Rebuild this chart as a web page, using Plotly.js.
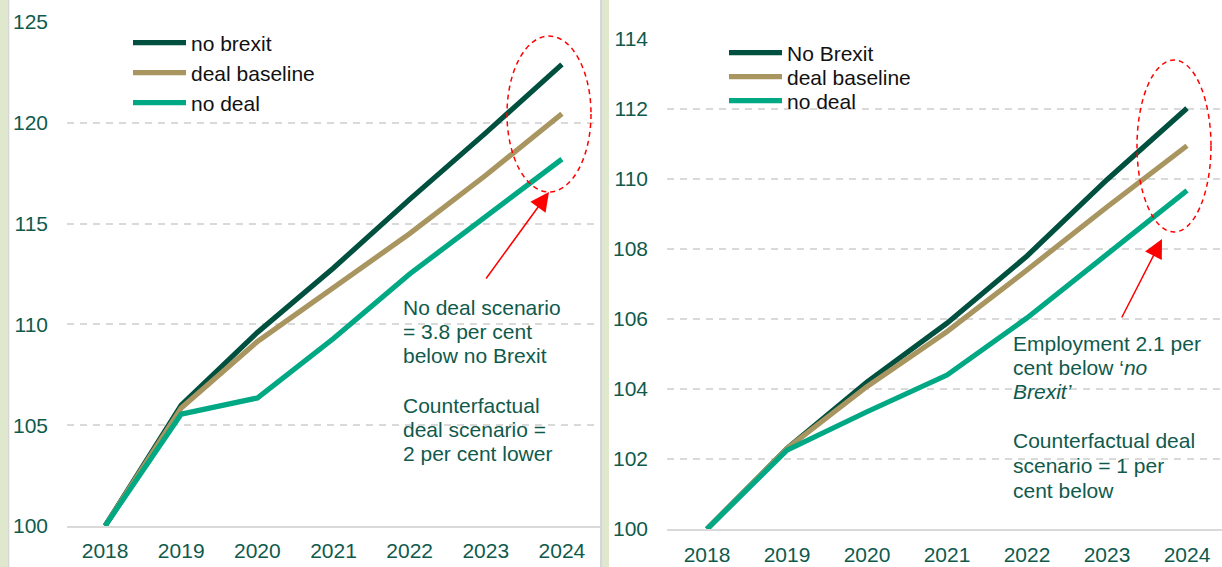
<!DOCTYPE html>
<html>
<head>
<meta charset="utf-8">
<script src="https://cdn.plot.ly/plotly-3.0.1.min.js"></script>
<style>html,body{margin:0;padding:0;background:#fff;}#chart{width:1222px;height:567px;}</style>
</head>
<body>
<div id="chart"></div>
<script>
// ---- data ----
const years = ['2018', '2019', '2020', '2021', '2022', '2023', '2024'];

const gdpNoBrexit = [100, 106.0, 109.6, 112.8, 116.2, 119.5, 122.9];
const gdpDeal     = [100, 105.85, 109.15, 111.8, 114.5, 117.4, 120.45];
const gdpNoDeal   = [100, 105.55, 106.35, 109.3, 112.5, 115.35, 118.2];

const empNoBrexit = [100, 102.3, 104.2, 105.88, 107.8, 109.98, 112.02];
const empDeal     = [100, 102.3, 104.07, 105.64, 107.4, 109.2, 110.95];
const empNoDeal   = [100, 102.25, 103.35, 104.4, 106.03, 107.85, 109.67];

const leftNames  = ['no brexit', 'deal baseline', 'no deal'];
const rightNames = ['No Brexit', 'deal baseline', 'no deal'];

const gdpTicks = [100, 105, 110, 115, 120, 125];
const empTicks = [100, 102, 104, 106, 108, 110, 112, 114];

const leftNoteLines  = ['No deal scenario', '= 3.8 per cent', 'below no Brexit', '',
                        'Counterfactual', 'deal scenario =', '2 per cent lower'];
const rightNoteLines = ['Employment 2.1 per', 'cent below \u2018<i>no</i>', '<i>Brexit\u2019</i>', '',
                        'Counterfactual deal', 'scenario = 1 per', 'cent below'];

// ---- styling ----
const W = 1222, H = 567;
const px = v => v / W;
const py = v => 1 - v / H;
const colors = ['#00503f', '#a8955f', '#00a884'];
const FONT = 'Liberation Sans, Arial, sans-serif';
const textGreen = '#0f5a4c';
const TXT = 21;
const TICK = 21;

const traces = [];
const leftSeries = [gdpNoBrexit, gdpDeal, gdpNoDeal];
const rightSeries = [empNoBrexit, empDeal, empNoDeal];
leftSeries.forEach((s, i) => traces.push({
  x: years, y: s, type: 'scatter', mode: 'lines', name: leftNames[i], showlegend: true,
  line: {color: colors[i], width: 5.2}, xaxis: 'x', yaxis: 'y',
  legend: i === 0 ? 'legend' : 'legend' + (i + 1)
}));
rightSeries.forEach((s, i) => traces.push({
  x: years, y: s, type: 'scatter', mode: 'lines', name: rightNames[i], showlegend: true,
  line: {color: colors[i], width: 5.2}, xaxis: 'x2', yaxis: 'y2',
  legend: 'legend' + (i + 4)
}));

function leg(xpx, ypx) {
  return {x: px(xpx), y: py(ypx), xanchor: 'left', yanchor: 'middle',
    bgcolor: 'rgba(0,0,0,0)', borderwidth: 0, itemwidth: 53,
    font: {family: FONT, size: TXT, color: '#111'}};
}

const gridCommon = {
  showgrid: true, gridcolor: '#d9d9d9', gridwidth: 2, griddash: '7px,6px',
  zeroline: false, ticks: '', tickfont: {family: FONT, size: TICK, color: textGreen}
};

const annotations = [];
leftNoteLines.forEach((t, i) => {
  if (!t) return;
  const yc = i < 3 ? 307 + 24 * i : 405 + 24 * (i - 4);
  annotations.push({xref: 'paper', yref: 'paper', x: px(401), y: py(yc), xanchor: 'left', yanchor: 'middle',
    align: 'left', showarrow: false, text: t, font: {family: FONT, size: TXT, color: textGreen}});
});
rightNoteLines.forEach((t, i) => {
  if (!t) return;
  const yc = i < 3 ? 343 + 24 * i : 440 + 25 * (i - 4);
  annotations.push({xref: 'paper', yref: 'paper', x: px(1011), y: py(yc), xanchor: 'left', yanchor: 'middle',
    align: 'left', showarrow: false, text: t, font: {family: FONT, size: TXT, color: textGreen}});
});
annotations.push(
  {xref: 'paper', yref: 'paper', x: px(549), y: py(192), text: '', showarrow: true,
    ax: -64, ay: 88, arrowcolor: '#ff0000', arrowwidth: 1.5, arrowhead: 2, arrowsize: 2.5},
  {xref: 'paper', yref: 'paper', x: px(1162), y: py(239), text: '', showarrow: true,
    ax: -41, ay: 80, arrowcolor: '#ff0000', arrowwidth: 1.5, arrowhead: 2, arrowsize: 2.5}
);

const layout = {
  width: W, height: H,
  margin: {l: 0, r: 0, t: 0, b: 0},
  showlegend: true,
  paper_bgcolor: '#fff', plot_bgcolor: 'rgba(0,0,0,0)',
  font: {family: FONT, size: TICK, color: textGreen},
  xaxis: {type: 'category', domain: [px(67), px(600)], range: [-0.5, 6.5],
    showgrid: false, zeroline: false, ticks: '', showline: true, linecolor: '#d9d9d9', linewidth: 2,
    tickfont: {family: FONT, size: TICK, color: textGreen}, ticklabelstandoff: 5, anchor: 'y'},
  yaxis: Object.assign({}, gridCommon, {domain: [py(526), py(22)], range: [100, 125],
    tickvals: gdpTicks, ticklabelstandoff: 18, anchor: 'x'}),
  xaxis2: {type: 'category', domain: [px(667), 1], range: [-0.5, 6.4375],
    showgrid: false, zeroline: false, ticks: '', showline: true, linecolor: '#d9d9d9', linewidth: 2,
    tickfont: {family: FONT, size: TICK, color: textGreen}, ticklabelstandoff: 6, anchor: 'y2'},
  yaxis2: Object.assign({}, gridCommon, {domain: [py(529), py(39)], range: [100, 114],
    tickvals: empTicks, ticklabelstandoff: 18, anchor: 'x2'}),
  legend: leg(128, 43), legend2: leg(128, 73), legend3: leg(128, 103),
  legend4: leg(724, 53), legend5: leg(724, 77), legend6: leg(724, 101),
  shapes: [
    {type: 'rect', xref: 'paper', yref: 'paper', x0: 0, x1: px(7.5), y0: 0, y1: 1, fillcolor: '#dfe8cc', line: {width: 0}, layer: 'below'},
    {type: 'rect', xref: 'paper', yref: 'paper', x0: px(7.5), x1: px(9.3), y0: 0, y1: 1, fillcolor: '#d6d6d6', line: {width: 0}, layer: 'below'},
    {type: 'rect', xref: 'paper', yref: 'paper', x0: px(600), x1: px(602.7), y0: 0, y1: 1, fillcolor: '#d6d6d6', line: {width: 0}, layer: 'below'},
    {type: 'rect', xref: 'paper', yref: 'paper', x0: px(602.7), x1: px(609), y0: 0, y1: 1, fillcolor: '#dfe8cc', line: {width: 0}, layer: 'below'},
    {type: 'circle', xref: 'paper', yref: 'paper', x0: px(507), x1: px(591), y0: py(36), y1: py(192), line: {color: '#ff0000', width: 1.5, dash: '5px,4px'}},
    {type: 'circle', xref: 'paper', yref: 'paper', x0: px(1137), x1: px(1211), y0: py(60), y1: py(232), line: {color: '#ff0000', width: 1.5, dash: '5px,4px'}}
  ],
  annotations: annotations
};

Plotly.newPlot('chart', traces, layout, {displayModeBar: false, staticPlot: true});
</script>
</body>
</html>
